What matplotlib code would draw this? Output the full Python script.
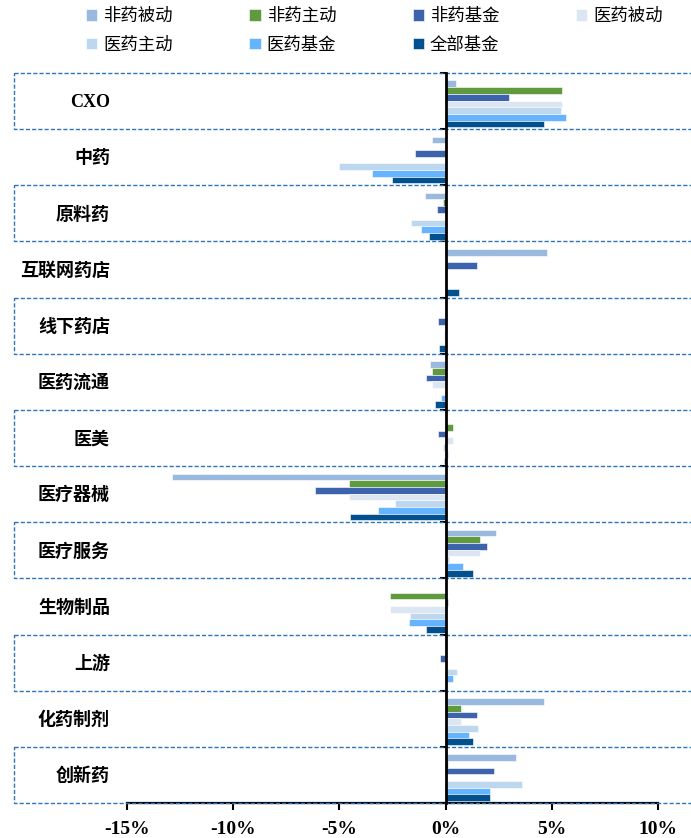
import matplotlib
matplotlib.use("Agg")
import matplotlib.pyplot as plt
from matplotlib.patches import Rectangle
from matplotlib.transforms import blended_transform_factory

# Sector names (top to bottom)
categories = ['CXO', '中药', '原料药', '互联网药店', '线下药店', '医药流通', '医美',
              '医疗器械', '医疗服务', '生物制品', '上游', '化药制剂', '创新药']

# Position change by fund type, in percentage points
fy_passive = [0.5, -0.63, -0.99, 4.76, 0, -0.75, 0, -12.9, 2.36, 0, 0, 4.63, 3.33]
fy_active = [5.46, 0, -0.14, 0, 0, -0.63, 0.36, -4.54, 1.63, -2.63, -0.05, 0.74, 0.1]
fy_fund = [2.97, -1.46, -0.39, 1.49, -0.36, -0.91, -0.36, -6.15, 1.94, 0.1, -0.27, 1.47, 2.28]
yy_passive = [5.46, 0, 0, 0, 0, -0.63, 0.36, -4.54, 1.63, -2.63, 0, 0.74, 0]
yy_active = [5.41, -5.0, -1.64, 0, -0.08, 0, -0.14, -2.38, 0.17, -1.69, 0.56, 1.53, 3.6]
yy_fund = [5.68, -3.47, -1.16, 0, 0, -0.23, 0.1, -3.18, 0.8, -1.74, 0.34, 1.1, 2.07]
all_fund = [4.63, -2.54, -0.8, 0.64, -0.31, -0.5, -0.08, -4.49, 1.3, -0.91, 0, 1.31, 2.07]

series_names = ['非药被动', '非药主动', '非药基金', '医药被动', '医药主动', '医药基金', '全部基金']
series_values = [fy_passive, fy_active, fy_fund, yy_passive, yy_active, yy_fund, all_fund]
colors = ['#9AB9DF', '#5F9A3E', '#3D63AD', '#DCE6F2', '#BDD7EE', '#66B4FF', '#03508F']

x_ticks = [-15, -10, -5, 0, 5, 10]

W, H = 691, 838
fig = plt.figure(figsize=(W / 100, H / 100), dpi=100)
ax = fig.add_axes([127 / W, 1 - 803 / H, (658 - 127) / W, (803 - 73) / H])

n = len(categories)
bar_h = 0.119
shift = 0.05
handles = []
for j, (name, vals, c) in enumerate(zip(series_names, series_values, colors)):
    ys = [i + (j - 3) * bar_h + shift for i in range(n)]
    b = ax.barh(ys, vals, height=bar_h, color=c, edgecolor='white',
                linewidth=0.4, label=name, zorder=2)
    handles.append(b)

ax.set_xlim(-15, 10)
ax.set_ylim(n - 0.5, -0.5)

# Axes styling
for s in ['top', 'right']:
    ax.spines[s].set_visible(False)
ax.spines['left'].set_position(('data', 0))
ax.spines['left'].set_linewidth(2.0)
ax.spines['left'].set_zorder(4)
ax.spines['bottom'].set_linewidth(1.6)
ax.set_yticks([i - 0.5 for i in range(n + 1)])
ax.set_yticklabels([])
ax.tick_params(axis='y', direction='out', length=4, width=1.5)
ax.set_xticks(x_ticks)
ax.set_xticklabels([f'{t}%' for t in x_ticks])
ax.tick_params(axis='x', direction='out', length=5, width=1.5, pad=8)
for lab in ax.get_xticklabels():
    lab.set_fontfamily('Liberation Serif')
    lab.set_fontweight('bold')
    lab.set_fontsize(14)

# Category labels and dashed frames
trans = blended_transform_factory(fig.transFigure, ax.transData)
for i, cat in enumerate(categories):
    ax.text(110 / W, i + 0.03, cat, transform=trans, ha='right', va='center',
            fontsize=13, fontweight='bold',
            family=['Liberation Serif', 'Noto Sans CJK SC'])
    if i % 2 == 0:
        rect = Rectangle((14 / W, i - 0.5), 1.0, 1.0, transform=trans,
                         fill=False, edgecolor='#2E75B6', linewidth=1.0,
                         linestyle=(0, (3, 1.5)), clip_on=False, zorder=3)
        ax.add_patch(rect)

# Legend: reorder so entries read row by row in four columns
ncol = 4
nrow = 2
order = []
for c in range(ncol):
    for r in range(nrow):
        k = r * ncol + c
        if k < len(series_names):
            order.append(k)
fig.legend(handles=[handles[k] for k in order],
           labels=[series_names[k] for k in order], ncol=ncol, loc='upper left',
           bbox_to_anchor=(86 / W, 1 - 7 / H), frameon=False,
           prop={'family': 'Noto Sans CJK SC', 'size': 12.5},
           handlelength=0.65, handleheight=0.65, handletextpad=0.35,
           columnspacing=4.4, labelspacing=0.62, borderpad=0, borderaxespad=0)

fig.savefig('out.png', dpi=100)
